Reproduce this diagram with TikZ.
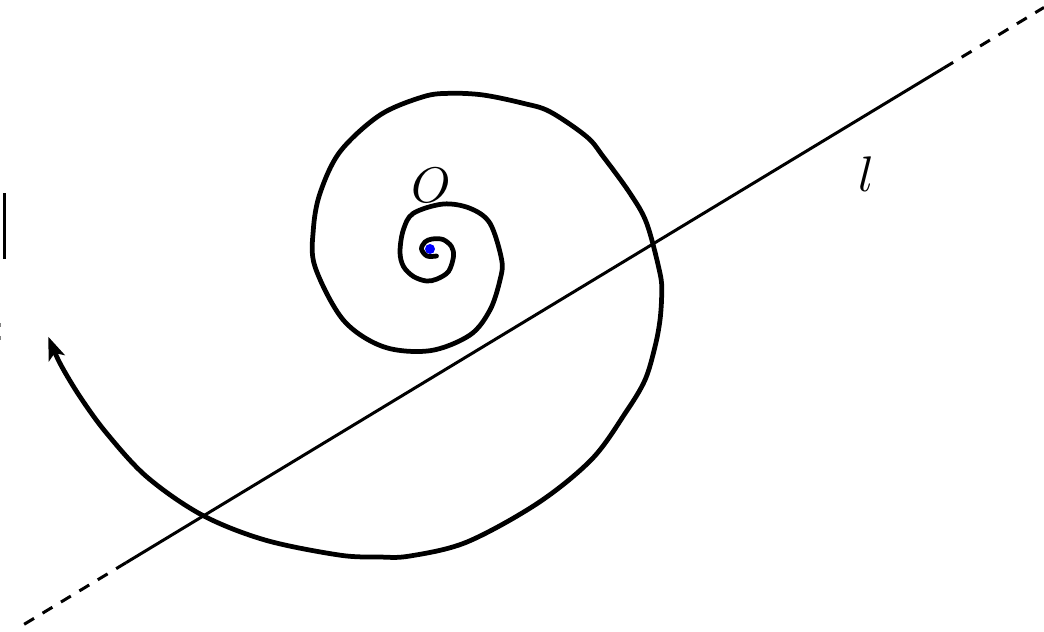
\documentclass[tikz,border=0pt]{standalone}
\usetikzlibrary{arrows.meta}
\begin{document}
\begin{tikzpicture}[x=0.2pt,y=-0.2pt,
  spiralline/.style={line width=0.95pt, line join=round, line cap=round},
  axisline/.style={line width=0.6pt},
  axisdash/.style={line width=0.6pt, dash pattern=on 2.3pt off 2pt},
  lbl/.style={inner sep=0pt, font=\normalsize}]
\useasboundingbox (0,0) rectangle (1044,631);

% line l
\coordinate (L0) at (16.7,628.8);
\coordinate (L1) at (126,562.7);
\coordinate (L2) at (943.3,68.3);
\coordinate (L3) at (1044,7.4);
\draw[axisline] (L1) -- (L2);
\draw[axisdash] (L1) -- (L0);
\draw[axisdash] (L2) -- (L3);

% spiral
\draw[spiralline, -{Stealth[length=4.6pt,width=3.4pt,inset=1.1pt]}] plot[smooth, tension=0.55] coordinates {
(436.5,256) (427,256) (421.5,249) (425,242) (432,239) (443,239.5) (451.5,246.5)
(453.5,256.5) (448.5,271.5) (437,279) (426.5,281) (413.5,276.5) (403.5,266.5)
(400,252) (403.3,230) (413.3,213.3) (443.3,204) (470,208.3) (490,223.3)
(501.7,260) (500,280) (490,310) (470,335) (430,350.7) (383.3,346.7)
(343.3,320) (315,266.7) (313.3,230) (320,193.3) (340,151.7) (380,115)
(423.3,96.7) (450,93.3) (483.3,95) (523.3,103.3) (550,111.7) (586.7,136.7)
(603.3,156.7) (630,193.3) (646.7,223.3) (660,273.3) (661.7,293.3) (660,320)
(655,346.7) (645,380) (626,412) (592,459) (538,503) (467,542) (410,556)
(379,557) (339,555) (265,540) (202,515) (147,477) (106.7,433.3) (80,396.7)
(60,363.3) (48.3,336.7)};

% pole
\node[circle, fill=blue, inner sep=0pt, minimum size=2pt] (P) at (430,249) {};

% labels
\node[lbl] (O) at (431,185) {$O$};
\node[lbl] (l) at (866.7,174) {$l$};

% cropped fragments at the left edge
\coordinate (B0) at (4.5,193);
\coordinate (B1) at (4.5,259);
\draw[line width=0.55pt] (B0) -- (B1);
\coordinate (M0) at (0.6,323);
\coordinate (M1) at (0.6,327);
\coordinate (M2) at (0.6,336);
\coordinate (M3) at (0.6,340);
\draw[line width=0.3pt, gray] (M0) -- (M1);
\draw[line width=0.3pt, gray] (M2) -- (M3);
\end{tikzpicture}
\end{document}
